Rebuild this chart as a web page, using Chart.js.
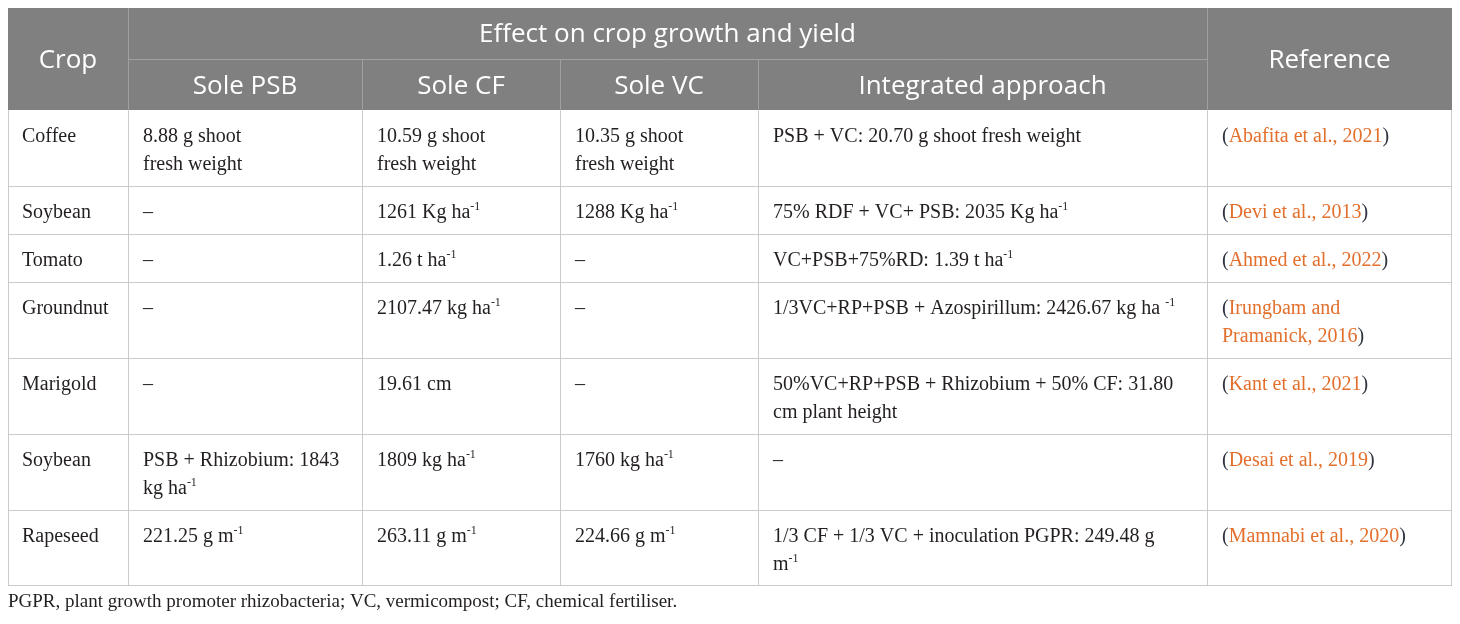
<!DOCTYPE html>
<html><head><meta charset="utf-8">
<script src="https://cdn.jsdelivr.net/npm/chart.js@4.4.0/dist/chart.umd.min.js"></script>
<style>html,body{margin:0;padding:0;background:#fff;}canvas{display:block;}</style>
</head><body>
<canvas id="c" width="1460" height="624"></canvas>
<script>
// ---------- data ----------
const groupHeader = "Effect on crop growth and yield";
const columnHeaders = ["Crop", "Sole PSB", "Sole CF", "Sole VC", "Integrated approach", "Reference"];
const crops = ["Coffee", "Soybean", "Tomato", "Groundnut", "Marigold", "Soybean", "Rapeseed"];
const solePSB = ["8.88 g shoot\nfresh weight", "–", "–", "–", "–", "PSB + Rhizobium: 1843\nkg ha^{-1}", "221.25 g m^{-1}"];
const soleCF = ["10.59 g shoot\nfresh weight", "1261 Kg ha^{-1}", "1.26 t ha^{-1}", "2107.47 kg ha^{-1}", "19.61 cm", "1809 kg ha^{-1}", "263.11 g m^{-1}"];
const soleVC = ["10.35 g shoot\nfresh weight", "1288 Kg ha^{-1}", "–", "–", "–", "1760 kg ha^{-1}", "224.66 g m^{-1}"];
const integrated = [
  "PSB + VC: 20.70 g shoot fresh weight",
  "75% RDF + VC+ PSB: 2035 Kg ha^{-1}",
  "VC+PSB+75%RD: 1.39 t ha^{-1}",
  "1/3VC+RP+PSB + Azospirillum: 2426.67 kg ha ^{-1}",
  "50%VC+RP+PSB + Rhizobium + 50% CF: 31.80\ncm plant height",
  "–",
  "1/3 CF + 1/3 VC + inoculation PGPR: 249.48 g\nm^{-1}"
];
const references = [
  "(Abafita et al., 2021)",
  "(Devi et al., 2013)",
  "(Ahmed et al., 2022)",
  "(Irungbam and\nPramanick, 2016)",
  "(Kant et al., 2021)",
  "(Desai et al., 2019)",
  "(Mamnabi et al., 2020)"
];
const footnote = "PGPR, plant growth promoter rhizobacteria; VC, vermicompost; CF, chemical fertiliser.";

// ---------- layout (not data) ----------
const colWidths = [120, 234, 198, 198, 449, 245];
const headerRowH = 51;
const lineH = 28;
const rowPad = 20;
const cellPadX = [14, 15, 15, 15, 15, 15];
const firstBaseline = 32;

const columns = [crops, solePSB, soleCF, soleVC, integrated, references];
const colEdges = [0];
colWidths.forEach(w => colEdges.push(colEdges[colEdges.length - 1] + w));
const tableW = colEdges[colEdges.length - 1];
const rowLines = crops.map((_, r) => Math.max(...columns.map(col => col[r].split("\n").length)));
const rowEdges = [headerRowH * 2];
rowLines.forEach(n => rowEdges.push(rowEdges[rowEdges.length - 1] + rowPad + lineH * n));
const tableH = rowEdges[rowEdges.length - 1];

const headerBg = "#808080";
const headerLine = "#a0a0a0";
const gridLine = "#cbcbcb";
const textColor = "#231f20";
const parenColor = "#2f3440";
const refColor = "#e36f2c";
const headerFont = "26px 'Open Sans'";
const bodyFont = "20px 'Liberation Serif'";
const supFont = "12px 'Liberation Serif'";

function drawRich(ctx, text, x, y, isRef) {
  const parts = text.split(/(\^\{[^}]*\})/);
  let cx = x;
  parts.forEach(p => {
    if (!p) return;
    const m = p.match(/^\^\{([^}]*)\}$/);
    if (m) {
      ctx.font = supFont;
      ctx.fillStyle = textColor;
      ctx.fillText(m[1], cx, y - 8);
      cx += ctx.measureText(m[1]).width;
    } else {
      ctx.font = bodyFont;
      const runs = isRef ? p.split(/([()])/) : [p];
      runs.forEach(run => {
        if (!run) return;
        ctx.fillStyle = isRef ? ((run === "(" || run === ")") ? parenColor : refColor) : textColor;
        ctx.fillText(run, cx, y);
        cx += ctx.measureText(run).width;
      });
    }
  });
}

const tablePlugin = {
  id: "tablePlugin",
  afterDraw(chart) {
    const ctx = chart.ctx;
    const xs = chart.scales.x, ys = chart.scales.y;
    const X = v => Math.round(xs.getPixelForValue(v));
    const Y = v => Math.round(ys.getPixelForValue(v));
    ctx.save();
    // header background
    ctx.fillStyle = headerBg;
    ctx.fillRect(X(0), Y(0), X(tableW) - X(0), Y(headerRowH * 2) - Y(0));
    // header lines
    ctx.strokeStyle = headerLine;
    ctx.lineWidth = 1;
    const hline = (x1, x2, y) => { ctx.beginPath(); ctx.moveTo(x1, y + 0.5); ctx.lineTo(x2, y + 0.5); ctx.stroke(); };
    const vline = (x, y1, y2) => { ctx.beginPath(); ctx.moveTo(x + 0.5, y1); ctx.lineTo(x + 0.5, y2); ctx.stroke(); };
    vline(X(colEdges[1]), Y(0), Y(headerRowH * 2));
    vline(X(colEdges[5]), Y(0), Y(headerRowH * 2));
    for (let i = 2; i <= 4; i++) vline(X(colEdges[i]), Y(headerRowH), Y(headerRowH * 2));
    hline(X(colEdges[1]), X(colEdges[5]), Y(headerRowH));
    // header text
    ctx.fillStyle = "#ffffff";
    ctx.font = headerFont;
    ctx.textAlign = "center";
    ctx.textBaseline = "alphabetic";
    const mid = (a, b) => (X(a) + X(b)) / 2;
    ctx.fillText(columnHeaders[0], mid(colEdges[0], colEdges[1]), Y(0) + 60);
    ctx.fillText(columnHeaders[5], mid(colEdges[5], colEdges[6]), Y(0) + 60);
    ctx.fillText(groupHeader, mid(colEdges[1], colEdges[5]), Y(0) + 34);
    for (let i = 1; i <= 4; i++) ctx.fillText(columnHeaders[i], mid(colEdges[i], colEdges[i + 1]), Y(headerRowH) + 35);
    // body grid
    ctx.strokeStyle = gridLine;
    for (let r = 1; r < rowEdges.length; r++) hline(X(0), X(tableW), Y(rowEdges[r]) - (r === rowEdges.length - 1 ? 1 : 0));
    for (let i = 0; i < colEdges.length; i++) {
      const xx = X(colEdges[i]) - (i === colEdges.length - 1 ? 1 : 0);
      vline(xx, Y(rowEdges[0]), Y(tableH));
    }
    // body text
    ctx.textAlign = "left";
    ctx.textBaseline = "alphabetic";
    columns.forEach((col, c) => {
      col.forEach((txt, r) => {
        const lines = txt.split("\n");
        lines.forEach((ln, li) => {
          drawRich(ctx, ln, X(colEdges[c]) + cellPadX[c], Y(rowEdges[r] + firstBaseline + li * lineH), c === 5);
        });
      });
    });
    // footnote
    ctx.font = "19px 'Liberation Serif'";
    ctx.fillStyle = textColor;
    ctx.fillText(footnote, X(0), Y(tableH) + 21);
    ctx.restore();
  }
};

new Chart(document.getElementById("c"), {
  type: "scatter",
  data: { datasets: [] },
  options: {
    responsive: false,
    animation: false,
    devicePixelRatio: 1,
    layout: { padding: { left: 8, right: 8, top: 8, bottom: 624 - 8 - tableH } },
    plugins: { legend: { display: false }, tooltip: { enabled: false } },
    scales: {
      x: { type: "linear", min: 0, max: tableW, display: false },
      y: { type: "linear", min: 0, max: tableH, reverse: true, display: false }
    }
  },
  plugins: [tablePlugin]
});
</script>
</body></html>
